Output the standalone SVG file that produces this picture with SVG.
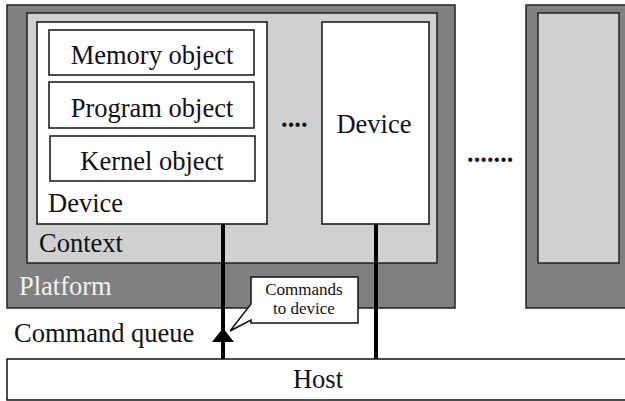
<svg xmlns="http://www.w3.org/2000/svg" width="625" height="401" viewBox="0 0 625 401">
<style>
.plat{fill:#808080;stroke:#222;stroke-width:1.5}
.ctx{fill:#cfd0d0;stroke:#222;stroke-width:1.5}
.box{fill:#fff;stroke:#111;stroke-width:1.5}
.mid{text-anchor:middle}
.conn{stroke:#000;stroke-width:4;fill:none}
</style>
<g font-family="Liberation Serif" font-size="26.5" fill="#111">
<g id="platform2">
<rect class="plat" x="526" y="5" width="120" height="303"/>
<rect class="ctx" x="538" y="13" width="81" height="250"/>
</g>
<g id="platform">
<rect class="plat" x="7" y="5" width="448" height="303"/>
<text x="19" y="295" fill="#f2f2f2">Platform</text>
</g>
<g id="context">
<rect class="ctx" x="27" y="13" width="410" height="250"/>
<text x="39" y="252">Context</text>
</g>
<g id="device1">
<rect class="box" x="37" y="22" width="230" height="202"/>
<text x="48" y="212">Device</text>
</g>
<g id="memory">
<rect class="box" x="49" y="30" width="205" height="45"/>
<text class="mid" x="152" y="64">Memory object</text>
</g>
<g id="program">
<rect class="box" x="49" y="82" width="205" height="46"/>
<text class="mid" x="152" y="117">Program object</text>
</g>
<g id="kernel">
<rect class="box" x="50" y="136" width="205" height="45"/>
<text class="mid" x="152" y="170">Kernel object</text>
</g>
<g id="device2">
<rect class="box" x="322" y="22" width="107" height="202"/>
<text class="mid" x="374" y="133">Device</text>
</g>
<g id="dots1"><text x="281" y="127" font-weight="bold">....</text></g>
<g id="dots2"><text x="467" y="162" font-weight="bold">.......</text></g>
<g id="host">
<rect class="box" x="7" y="359" width="640" height="41"/>
<text class="mid" x="318" y="388">Host</text>
</g>
<g id="connectors">
<line class="conn" x1="223" y1="224" x2="223" y2="359"/>
<line class="conn" x1="376" y1="224" x2="376" y2="359"/>
<polygon points="223,328 212,342 234,342" fill="#000"/>
</g>
<g id="callout">
<polygon class="box" points="251,277 358,277 358,323 251,323 251,320 230,331 251,304"/>
<text class="mid" x="304" y="295" font-size="17">Commands</text>
<text class="mid" x="304" y="314" font-size="17">to device</text>
</g>
<g id="cmdqueue"><text x="14" y="342">Command queue</text></g>
</g>
</svg>
